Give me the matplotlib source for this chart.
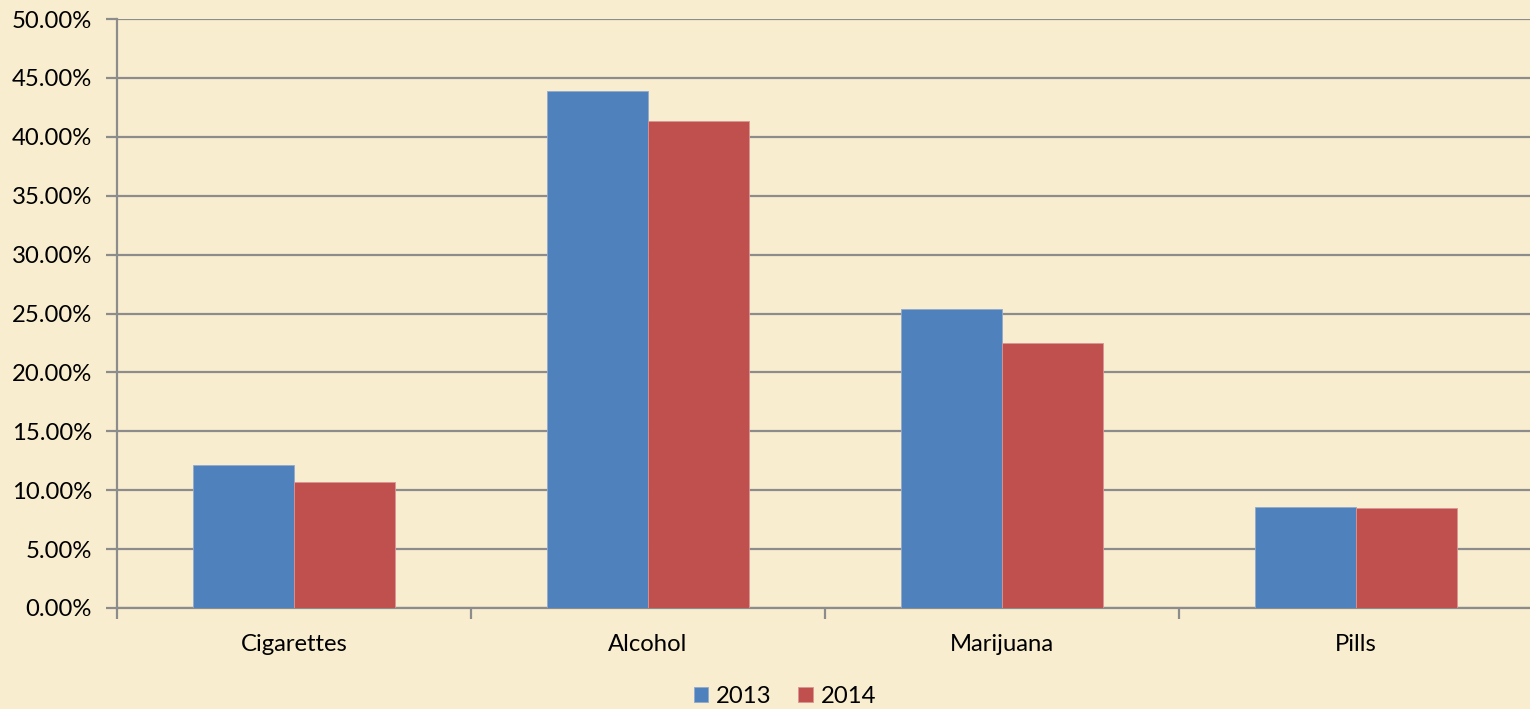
import numpy as np
import matplotlib.pyplot as plt
from matplotlib.ticker import FuncFormatter, MultipleLocator

categories = ['Cigarettes', 'Alcohol', 'Marijuana', 'Pills']
years = ['2013', '2014']
values_2013 = [12.1, 43.9, 25.4, 8.6]
values_2014 = [10.7, 41.3, 22.5, 8.5]

plt.rcParams['font.family'] = ['Lato', 'DejaVu Sans']

bg = '#F9EDCF'
fig = plt.figure(figsize=(15.3, 7.09), dpi=100, facecolor=bg)
ax = fig.add_axes([117 / 1530, 1 - 608 / 709, (1533 - 117) / 1530, (608 - 19) / 709])
ax.set_facecolor(bg)

x = np.arange(len(categories))
w = 0.2857
ax.bar(x - w / 2, values_2013, w, color='#4F81BD', edgecolor='#8FAAD0', linewidth=0.6, label=years[0], zorder=3)
ax.bar(x + w / 2, values_2014, w, color='#C0504D', edgecolor='#D99593', linewidth=0.6, label=years[1], zorder=3)

ax.set_xlim(-0.5, len(categories) - 0.5)
ax.set_ylim(0, 50)
ax.yaxis.set_major_locator(MultipleLocator(5))
ax.yaxis.set_major_formatter(FuncFormatter(lambda v, p: f'{v:.2f}%'))
ax.grid(axis='y', color='#8C8C8C', linewidth=1.6, zorder=0)

ax.set_xticks(x)
ax.set_xticklabels(categories)
ax.set_xticks(np.arange(len(categories) + 1) - 0.5, minor=True)
ax.tick_params(axis='x', which='major', length=0, pad=19, labelsize=17.2)
ax.tick_params(axis='x', which='minor', length=8, width=1.6, color='#8C8C8C')
ax.tick_params(axis='y', length=8, width=1.6, color='#8C8C8C', labelsize=17.2, pad=10)

for s in ['top', 'right']:
    ax.spines[s].set_visible(False)
for s in ['left', 'bottom']:
    ax.spines[s].set_color('#8C8C8C')
    ax.spines[s].set_linewidth(1.6)

fig.legend(loc='lower center', bbox_to_anchor=(785 / 1530, -0.027), ncol=2, frameon=False,
           fontsize=17.2, handlelength=0.6, handleheight=0.6, handletextpad=0.35, columnspacing=1.1)

fig.savefig('out.png', dpi=100, facecolor=bg)
